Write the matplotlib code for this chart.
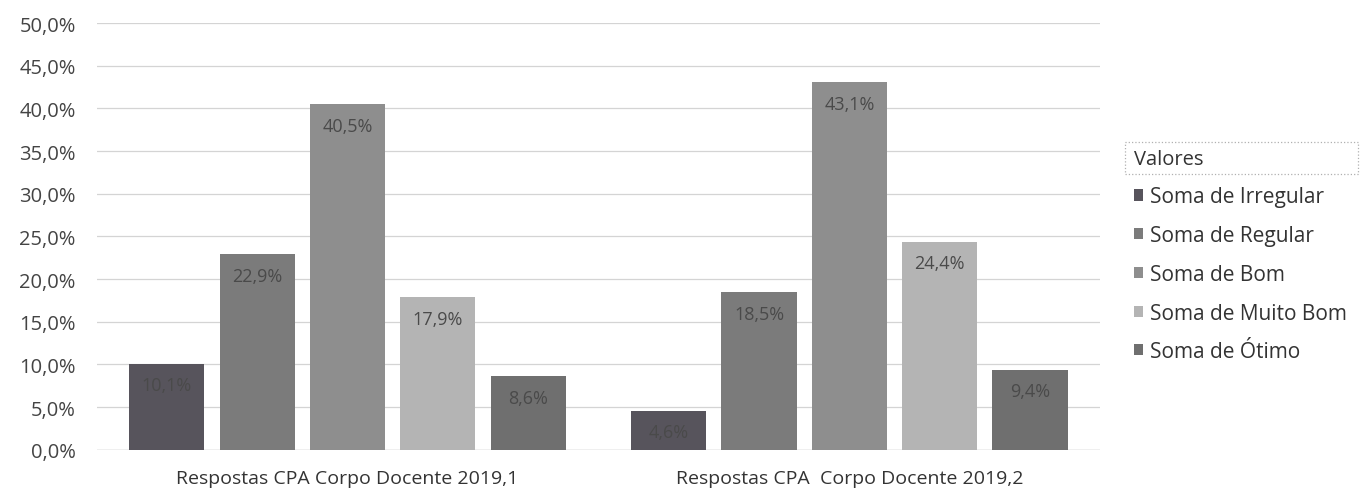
import matplotlib
matplotlib.use("Agg")
import matplotlib.pyplot as plt
from matplotlib.patches import Rectangle
import numpy as np

plt.rcParams["font.family"] = ["Open Sans", "DejaVu Sans"]

categories = ["Respostas CPA Corpo Docente 2019,1", "Respostas CPA  Corpo Docente 2019,2"]
series = ["Soma de Irregular", "Soma de Regular", "Soma de Bom", "Soma de Muito Bom", "Soma de Ótimo"]
irregular = [10.1, 4.6]
regular = [22.9, 18.5]
bom = [40.5, 43.1]
muito_bom = [17.9, 24.4]
otimo = [8.6, 9.4]
values = [irregular, regular, bom, muito_bom, otimo]
colors = ["#57545c", "#7b7b7b", "#8e8e8e", "#b4b4b4", "#6f6f6f"]

fig = plt.figure(figsize=(13.6, 5.02), dpi=100)
ax = fig.add_axes([0.071, 0.102, 0.738, 0.85])

x = np.arange(len(categories))
step = 0.18
width = 0.15
for i, (name, vals, c) in enumerate(zip(series, values, colors)):
    pos = x + (i - 2) * step
    bars = ax.bar(pos, vals, width, color=c, label=name, zorder=2)
    for b, v in zip(bars, vals):
        ax.text(b.get_x() + b.get_width() / 2, v - 1.5, f"{v:.1f}%".replace(".", ","),
                ha="center", va="top", fontsize=13, color="#4a4a4a", zorder=3)

ax.set_xlim(-0.5, 1.5)
ax.set_ylim(0, 50)
ticks = np.arange(0, 50.1, 5)
ax.set_yticks(ticks)
ax.set_yticklabels([f"{t:.1f}%".replace(".", ",") for t in ticks],
                   fontsize=14.5, color="#444444")
ax.set_xticks(x)
ax.set_xticklabels(categories, fontsize=14, color="#333333")
ax.tick_params(axis="x", length=0, pad=14)
ax.tick_params(axis="y", length=0, pad=15)
ax.grid(axis="y", color="#d4d4d4", linewidth=0.9, zorder=0)
for s in ax.spines.values():
    s.set_visible(False)
ax.axhline(0, color="#c8c8c8", linewidth=1, zorder=1)

leg = ax.legend(title="Valores", loc="upper left", bbox_to_anchor=(1.025, 0.725),
                frameon=False, fontsize=15, title_fontsize=14.5, handlelength=0.45,
                handleheight=0.45, handletextpad=0.35, labelspacing=0.85,
                borderaxespad=0.0, alignment="left")
for t in leg.get_texts():
    t.set_color("#333333")
leg.get_title().set_color("#333333")

# dotted selection box around the legend title, as in the scanned original
fig.patches.append(Rectangle((1125 / 1360, 1 - 175 / 502), 233 / 1360, 32 / 502,
                             transform=fig.transFigure, fill=False,
                             edgecolor="#b0b0b0", linestyle=":", linewidth=0.9))

fig.savefig("out.png", dpi=100, facecolor="white")
